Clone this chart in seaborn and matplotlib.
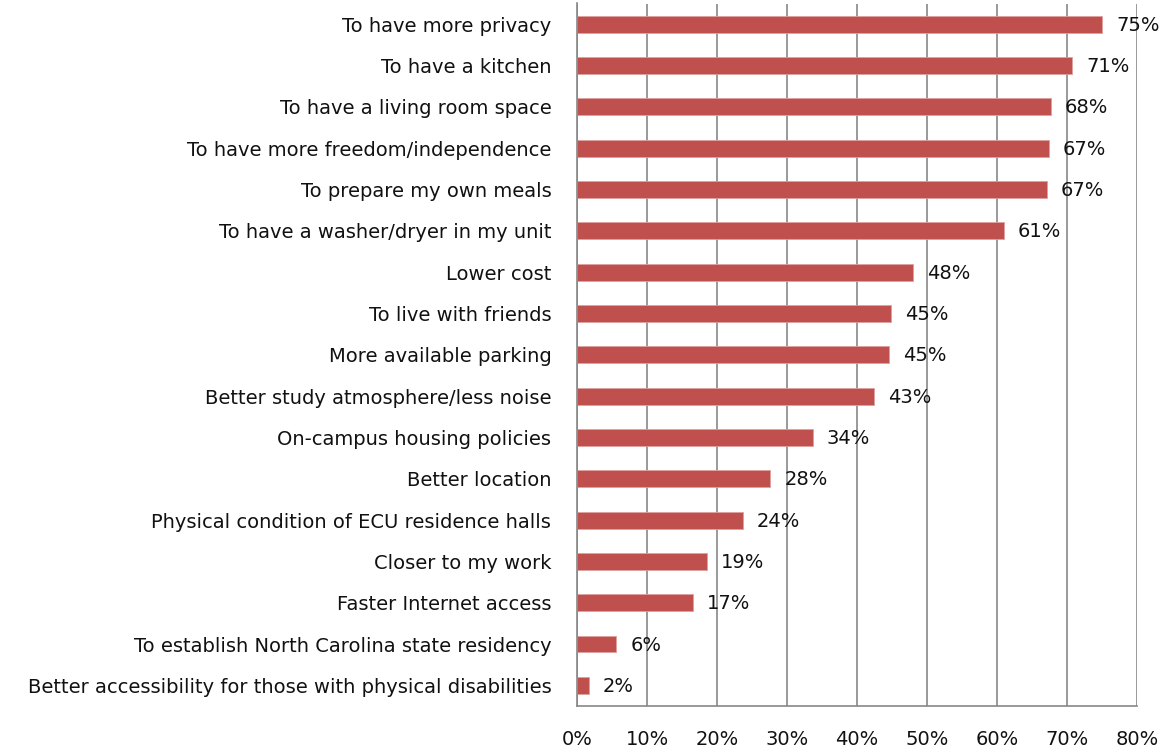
import matplotlib
matplotlib.use("Agg")
import matplotlib.pyplot as plt
import seaborn as sns
import pandas as pd
import numpy as np

categories = [
    "To have more privacy",
    "To have a kitchen",
    "To have a living room space",
    "To have more freedom/independence",
    "To prepare my own meals",
    "To have a washer/dryer in my unit",
    "Lower cost",
    "To live with friends",
    "More available parking",
    "Better study atmosphere/less noise",
    "On-campus housing policies",
    "Better location",
    "Physical condition of ECU residence halls",
    "Closer to my work",
    "Faster Internet access",
    "To establish North Carolina state residency",
    "Better accessibility for those with physical disabilities",
]
values = [75.0, 70.7, 67.7, 67.4, 67.1, 61.0, 48.0, 44.9, 44.6, 42.4, 33.7, 27.6, 23.7, 18.6, 16.6, 5.6, 1.7]
value_labels = ["75%", "71%", "68%", "67%", "67%", "61%", "48%", "45%", "45%", "43%",
                "34%", "28%", "24%", "19%", "17%", "6%", "2%"]
xticks = [0, 10, 20, 30, 40, 50, 60, 70, 80]
xtick_labels = ["0%", "10%", "20%", "30%", "40%", "50%", "60%", "70%", "80%"]

df = pd.DataFrame({"reason": categories, "pct": values})

sns.set_theme(style="white")
plt.rcParams["font.family"] = ["DejaVu Sans"]

FS = 14
fig = plt.figure(figsize=(11.6, 7.52), dpi=100)
ax = fig.add_axes([577/1160, 1 - 706/752, (1137-577)/1160, (706-3.5)/752])

sns.barplot(data=df, y="reason", x="pct", orient="h", color="#C0504D",
            saturation=1, width=0.41, ax=ax, edgecolor="#E0A09E", linewidth=0.6)

ax.set_xlim(0, 80)
ax.set_ylim(len(categories) - 0.5, -0.5)
ax.set_xticks(xticks)
ax.set_xticklabels(xtick_labels, fontsize=FS, color="#111111")
ax.set_xlabel("")
ax.set_ylabel("")
ax.set_yticks(range(len(categories)))
ax.set_yticklabels(categories, fontsize=FS, color="#111111")
ax.tick_params(axis="y", length=0, pad=18.5)
ax.tick_params(axis="x", length=0, pad=17)

ax.grid(axis="x", color="#878787", linewidth=1.2)
ax.set_axisbelow(True)
for side in ["top", "right"]:
    ax.spines[side].set_visible(False)
for side in ["left", "bottom"]:
    ax.spines[side].set_color("#878787")
    ax.spines[side].set_linewidth(1.2)

ax.set_yticks(np.arange(-0.5, len(categories), 1.0), minor=True)
ax.set_xticks(xticks, minor=True)
ax.tick_params(axis="y", which="minor", length=5, width=1.2, color="#878787", direction="out")
ax.tick_params(axis="x", which="minor", length=5, width=1.2, color="#878787", direction="out")

for i, (v, lab) in enumerate(zip(values, value_labels)):
    ax.annotate(lab, xy=(v, i), xytext=(14, -1), textcoords="offset pixels",
                ha="left", va="center", fontsize=FS, color="#111111")

fig.savefig("out.png", dpi=100)
